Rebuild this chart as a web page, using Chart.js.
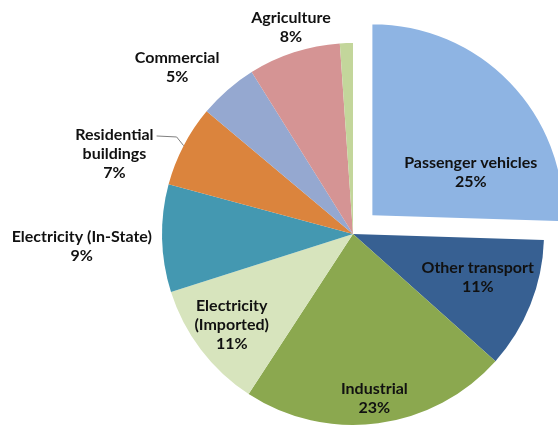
<!DOCTYPE html>
<html><head><meta charset="utf-8">
<script src="https://cdn.jsdelivr.net/npm/chart.js@4"></script>
<style>html,body{margin:0;padding:0;background:#fff}#wrap{width:558px;height:427px;position:relative}</style>
</head><body><div id="wrap"><canvas id="c" width="558" height="427"></canvas></div>
<script>
const categories = ["Passenger vehicles","Other transport","Industrial","Electricity (Imported)","Electricity (In-State)","Residential buildings","Commercial","Agriculture","Other"];
const labelLines = [["Passenger vehicles"],["Other transport"],["Industrial"],["Electricity","(Imported)"],["Electricity (In-State)"],["Residential","buildings"],["Commercial"],["Agriculture"],[]];
const shares = [25.5, 11.1, 22.6, 10.9, 9.1, 6.9, 5.0, 7.8, 1.1];
const percentLabels = ["25%","11%","23%","11%","9%","7%","5%","8%",""];
const colors = ["#8EB4E3","#376092","#8BA84F","#D7E4BD","#4498B1","#DB843D","#95A8D0","#D59494","#C3D69B"];
// explosion distance in pixels (Chart.js moves an arc by offset/4)
const explode = [27,0,0,0,0,0,0,0,0];
// label block centres, in units of radius, relative to each slice's apex
const labelPos = [[0.515,-0.222],[0.653,0.228],[0.112,0.859],[-0.635,0.474],[-1.420,0.063],[-1.249,-0.419],[-0.921,-0.873],[-0.325,-1.081],null];
const leader = [false,false,false,false,false,true,false,false,false];

const FONT = 'bold 16px Lato';
const LINE_H = 19;

const labelPlugin = {
  id: 'sliceLabels',
  afterDatasetsDraw(chart) {
    const ctx = chart.ctx;
    const meta = chart.getDatasetMeta(0);
    ctx.save();
    ctx.font = FONT;
    ctx.fillStyle = '#111';
    ctx.textAlign = 'center';
    ctx.textBaseline = 'middle';
    meta.data.forEach((arc, i) => {
      const p = labelPos[i];
      if (!p) return;
      const {x, y, startAngle, endAngle, outerRadius, circumference} = arc.getProps(['x','y','startAngle','endAngle','outerRadius','circumference'], true);
      const mid = (startAngle + endAngle) / 2;
      const fix = 1 - Math.sin(Math.min(Math.PI, circumference || 0));
      const shift = explode[i] * (1 + fix);
      const ax = x + Math.cos(mid) * shift;
      const ay = y + Math.sin(mid) * shift;
      const cx = ax + p[0] * outerRadius;
      const cy = ay + p[1] * outerRadius;
      const lines = labelLines[i].concat([percentLabels[i]]);
      const top = cy - (lines.length - 1) * LINE_H / 2;
      lines.forEach((t, k) => ctx.fillText(t, cx, top + k * LINE_H));
      if (leader[i]) {
        const w = ctx.measureText(lines[0]).width;
        const sx = cx + w / 2 + 3, sy = top + 1;
        const ex = ax + Math.cos(mid) * outerRadius, ey = ay + Math.sin(mid) * outerRadius;
        ctx.beginPath();
        ctx.strokeStyle = '#7f7f7f';
        ctx.lineWidth = 1;
        ctx.moveTo(sx, sy);
        ctx.lineTo(ex - 7, sy + 1);
        ctx.lineTo(ex, ey);
        ctx.stroke();
      }
    });
    ctx.restore();
  }
};

new Chart(document.getElementById('c'), {
  type: 'pie',
  data: {
    labels: categories,
    datasets: [{
      data: shares,
      backgroundColor: colors,
      borderWidth: 0,
      offset: explode.map(v => v * 4),
      hoverOffset: 0
    }]
  },
  options: {
    responsive: false,
    animation: false,
    events: [],
    radius: 191,
    layout: {padding: {left: 148, right: 0, top: 41, bottom: 0}},
    plugins: {legend: {display: false}, tooltip: {enabled: false}}
  },
  plugins: [labelPlugin]
});
</script>
</body></html>
